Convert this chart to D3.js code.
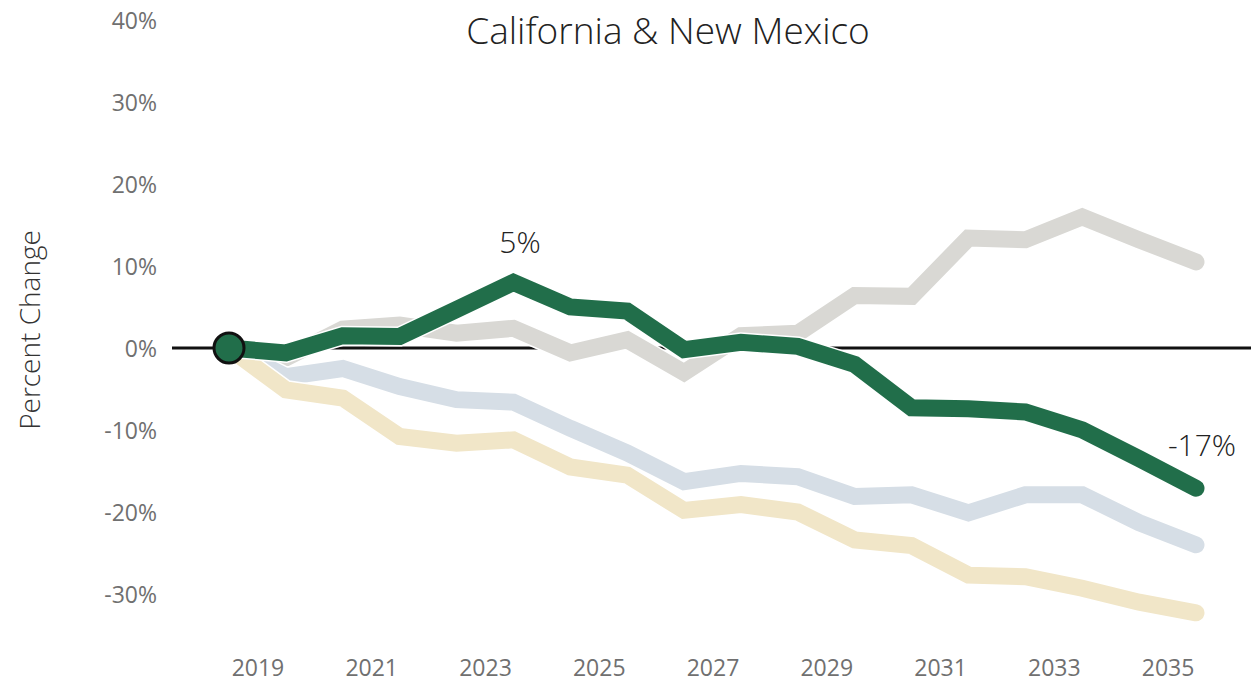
<!DOCTYPE html>
<html>
<head>
<meta charset="utf-8">
<script src="https://cdn.jsdelivr.net/npm/d3@7"></script>
<style>
  html, body { margin: 0; padding: 0; background: #fff; }
  svg { display: block; }
  text { font-family: "Open Sans", sans-serif; }
</style>
</head>
<body>
<svg id="chart" width="1251" height="686"></svg>
<script>
// ---- data ----
const years = [2018.5, 2019.5, 2020.5, 2021.5, 2022.5, 2023.5, 2024.5, 2025.5, 2026.5,
               2027.5, 2028.5, 2029.5, 2030.5, 2031.5, 2032.5, 2033.5, 2034.5, 2035.5];
const caNm   = [0, -0.6, 1.5, 1.4, 4.7, 8.0, 5.0, 4.5, -0.2, 0.7, 0.2, -2.0, -7.3, -7.4, -7.8, -10.0, -13.5, -17.1];
const grayS  = [0, -1.2, 2.3, 2.8, 1.8, 2.4, -0.6, 1.0, -3.0, 1.5, 1.8, 6.4, 6.3, 13.4, 13.2, 16.0, 13.2, 10.5];
const blueS  = [0, -3.5, -2.5, -4.7, -6.3, -6.6, -9.8, -12.8, -16.3, -15.3, -15.7, -18.1, -17.9, -20.1, -17.9, -17.9, -21.3, -24.0];
const tanS   = [0, -5.1, -6.1, -10.8, -11.6, -11.2, -14.5, -15.5, -19.8, -19.1, -20.0, -23.4, -24.1, -27.7, -27.9, -29.3, -31.0, -32.3];
const xTicks = [2019, 2021, 2023, 2025, 2027, 2029, 2031, 2033, 2035];
const yTicks = [40, 30, 20, 10, 0, -10, -20, -30];
const title = "California & New Mexico";
const yTitle = "Percent Change";
const peakLabel = "5%";
const endLabel = "-17%";

// ---- scales ----
const svg = d3.select("#chart");
const x = d3.scaleLinear().domain([2018.5, 2035.5]).range([229, 1196]);
const y = d3.scaleLinear().domain([-30, 40]).range([594, 20]);

// title
svg.append("text")
  .attr("x", 668).attr("y", 29)
  .attr("text-anchor", "middle").attr("dominant-baseline", "central")
  .attr("font-size", 37).attr("font-weight", 300).attr("fill", "#222")
  .text(title);

// y axis title
svg.append("text")
  .attr("transform", "translate(29,330) rotate(-90)")
  .attr("text-anchor", "middle").attr("dominant-baseline", "central")
  .attr("font-size", 28).attr("font-weight", 300).attr("fill", "#333")
  .text(yTitle);

// y axis
const yAxis = svg.append("g").attr("transform", "translate(157,0)")
  .call(d3.axisLeft(y).tickValues(yTicks).tickSize(0).tickPadding(0).tickFormat(d => d + "%"));
yAxis.select(".domain").remove();
yAxis.selectAll("text").attr("font-family", "Open Sans, sans-serif")
  .attr("font-size", 23).attr("fill", "#707070").attr("dy", "0.35em");

// x axis
const xAxis = svg.append("g").attr("transform", "translate(0,668)")
  .call(d3.axisBottom(x).tickValues(xTicks).tickSize(0).tickPadding(0).tickFormat(d3.format("d")));
xAxis.select(".domain").remove();
xAxis.selectAll("text").attr("font-family", "Open Sans, sans-serif")
  .attr("font-size", 23).attr("fill", "#707070").attr("dy", "0.35em");

// zero line
svg.append("line")
  .attr("x1", 172).attr("x2", 1251)
  .attr("y1", y(0)).attr("y2", y(0))
  .attr("stroke", "#111").attr("stroke-width", 3);

const line = d3.line().x((d, i) => x(years[i])).y(d => y(d));

const series = [
  { v: grayS, c: "#d9d8d4" },
  { v: blueS, c: "#d6dee6" },
  { v: tanS,  c: "#f1e6c8" },
  { v: caNm,  c: "#216e4a" }
];
series.forEach(s => {
  svg.append("path").attr("d", line(s.v))
    .attr("fill", "none").attr("stroke", "#fff").attr("stroke-width", 20)
    .attr("stroke-linejoin", "miter").attr("stroke-linecap", "round");
  svg.append("path").attr("d", line(s.v))
    .attr("fill", "none").attr("stroke", s.c).attr("stroke-width", 17)
    .attr("stroke-linejoin", "miter").attr("stroke-linecap", "round");
});

// start marker
svg.append("circle")
  .attr("cx", x(years[0])).attr("cy", y(caNm[0])).attr("r", 15)
  .attr("fill", "#216e4a").attr("stroke", "#111").attr("stroke-width", 3);

// annotations
svg.append("text")
  .attr("x", 520).attr("y", 241)
  .attr("text-anchor", "middle").attr("dominant-baseline", "central")
  .attr("font-size", 30).attr("font-weight", 300).attr("fill", "#222")
  .text(peakLabel);
svg.append("text")
  .attr("x", 1202).attr("y", 444)
  .attr("text-anchor", "middle").attr("dominant-baseline", "central")
  .attr("font-size", 30).attr("font-weight", 300).attr("fill", "#222")
  .text(endLabel);
</script>
</body>
</html>
